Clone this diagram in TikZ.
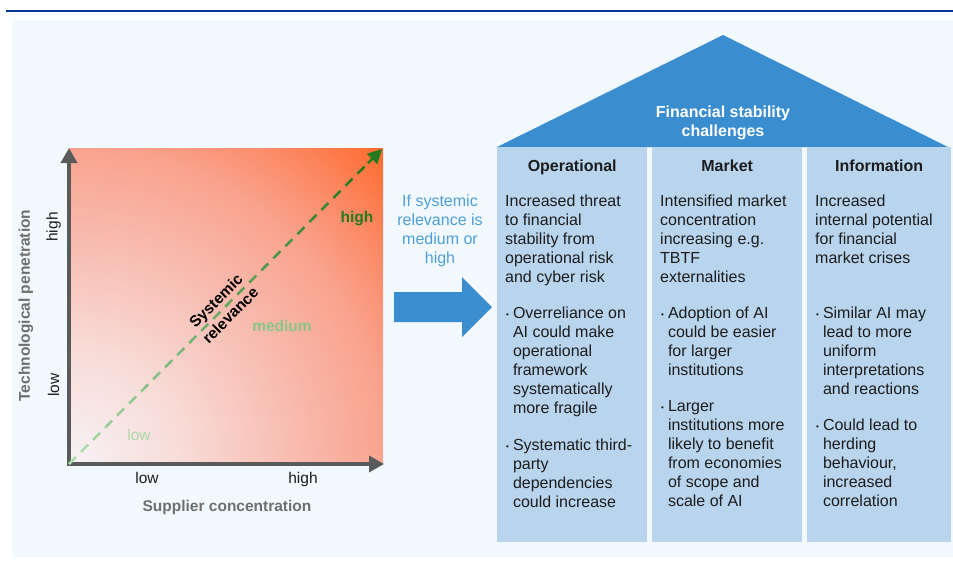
\documentclass[tikz,border=0pt]{standalone}
\usepackage{fontspec}
\setmainfont{Liberation Sans}
\usetikzlibrary{arrows.meta,positioning,calc}
\definecolor{ink}{HTML}{1C1C1C}
\definecolor{rulecol}{HTML}{0A3597}
\definecolor{canvas}{HTML}{F2F9FE}
\definecolor{roofblue}{HTML}{3A8DCF}
\definecolor{pillarfill}{HTML}{B9D5EE}
\definecolor{hintblue}{HTML}{4F9ED8}
\definecolor{axisgray}{HTML}{5A5A5A}
\definecolor{axislabel}{HTML}{6E6E6E}
\definecolor{heat0}{HTML}{F7F2F6}
\definecolor{heat1}{HTML}{F8DCD8}
\definecolor{heat2}{HTML}{F8BCB0}
\definecolor{heat3}{HTML}{F9A38E}
\definecolor{heat4}{HTML}{FB8A66}
\definecolor{heat5}{HTML}{FF6A2C}
\definecolor{relhigh}{HTML}{23791F}
\definecolor{relmid}{HTML}{86C686}
\definecolor{rellow}{HTML}{ABDAAB}
\pgfdeclareradialshading{heatfan}{\pgfpointorigin}{color(0bp)=(heat0); color(6.25bp)=(heat1);
  color(12.5bp)=(heat2); color(17.7bp)=(heat3); color(21bp)=(heat4); color(25bp)=(heat5);
  color(50bp)=(heat5)}
\newcommand{\colfont}{\fontsize{16}{19}\selectfont}
\newcommand{\chartfont}{\fontsize{15.5}{19}\selectfont}
\newcommand{\pipitem}[1]{\begin{tabular}[t]{@{}l@{\hspace{4pt}}l@{}}\raisebox{1.5pt}{\fontsize{8}{8}\selectfont\textbullet}&\begin{tabular}[t]{@{}l@{}}#1\end{tabular}\end{tabular}}

\begin{document}
\begin{tikzpicture}[
  x=1pt, y=-1pt,
  axisline/.style={draw=axisgray, line width=3.5pt,
                   {Triangle[width=16pt,length=15pt]}-{Triangle[width=16pt,length=15pt]}},
  relline/.style={line width=2.5pt, dash pattern=on 10pt off 7pt},
  pillar/.style={fill=pillarfill, inner sep=0pt, minimum width=150pt,
                 minimum height=395pt, anchor=north west},
  colhead/.style={font=\colfont\bfseries, text=ink, anchor=base},
  colbody/.style={font=\colfont, text=ink, align=left, inner sep=0pt, anchor=north west},
  chartlbl/.style={font=\chartfont, inner sep=0pt, anchor=base},
  axistitle/.style={font=\chartfont\bfseries, text=axislabel, inner sep=0pt}
]
\useasboundingbox (0,0) rectangle (953,563);

% page frame
\draw[rulecol, line width=2.5pt] (6,11) -- (953,11);
\fill[canvas] (12,20) rectangle (953,557);

% matrix: supplier concentration vs technological penetration
\coordinate (o) at (69,464);
\coordinate (xtip) at (384,464);
\coordinate (ytip) at (69,148);
\coordinate (rtip) at (382,149);
\begin{scope}
  \clip (o) rectangle (383,148);
  \shade[shading=heatfan] (o) circle (446);
\end{scope}
\draw[axisline] (ytip) -- (o) -- (xtip);

\foreach \i in {0,...,15}{
  \pgfmathsetmacro{\pa}{\i/16*0.955}
  \pgfmathsetmacro{\pb}{(\i+1)/16*0.955}
  \pgfmathsetmacro{\mix}{\i*100/15}
  \pgfmathsetmacro{\ph}{\i*26.42}
  \draw[relline, draw=relhigh!\mix!rellow, dash phase=\ph pt]
    ($(o)!\pa!(rtip)$) -- ($(o)!\pb!(rtip)$);
}
\draw[relhigh, line width=2.5pt, -{Triangle[width=14pt,length=14pt]}]
  ($(o)!0.955!(rtip)$) -- (rtip);

\node[font=\fontsize{15.5}{20.5}\selectfont\bfseries, text=black, align=center,
      rotate=45, inner sep=0pt] (rellbl) at (223,308) {Systemic\\relevance};
\node[chartlbl, font=\chartfont\bfseries, text=relhigh] (relhi) at (357,222.5) {high};
\node[chartlbl, font=\chartfont\bfseries, text=relmid] (relmd) at (282,331.5) {medium};
\node[chartlbl, text=rellow] (rello) at (139,440) {low};

\node[chartlbl, text=ink] (xlow) at (147,483.3) {low};
\node[chartlbl, text=ink] (xhigh) at (303,483.3) {high};
\node[axistitle, anchor=base] (xttl) at (227,511.7) {Supplier concentration};
\node[font=\chartfont, text=ink, inner sep=0pt, rotate=90] (yhigh) at (53.5,227) {high};
\node[font=\chartfont, text=ink, inner sep=0pt, rotate=90] (ylow) at (53.5,385) {low};
\node[axistitle, rotate=90] (yttl) at (26,305.5) {Technological penetration};

% condition and arrow to the house
\node[font=\colfont, text=hintblue, align=center, inner sep=0pt, anchor=north]
  (hint) at (440,193.2) {\strut If systemic\\relevance is\\medium or\\high};
\fill[roofblue] (394,292) -- (462,292) -- (462,277) -- (492,307)
  -- (462,337) -- (462,322) -- (394,322) -- cycle;

% house of challenges
\coordinate (apex) at (723,35);
\fill[roofblue] (497,147) -- (apex) -- (948,147) -- cycle;
\node[font=\colfont\bfseries, text=white, align=center, inner sep=0pt, anchor=north]
  (roofttl) at (723,103.7) {\strut Financial stability\\challenges};

\node[pillar] (opcol) at (497,147) {};
\node[pillar] (mktcol) at (652,147) {};
\node[pillar, minimum width=144pt] (infocol) at (807,147) {};

\node[colhead] (ophead) at ($(opcol.north)+(0,24.5)$) {Operational};
\node[colhead] (mkthead) at ($(mktcol.north)+(0,24.5)$) {Market};
\node[colhead] (infohead) at ($(infocol.north)+(0,24.5)$) {Information};

\node[colbody] (opintro) at ($(opcol.north west)+(8,46.2)$)
  {\strut Increased threat\\to financial\\stability from\\operational risk\\and cyber risk};
\node[colbody] (opa) at ($(opcol.north west)+(9,158.2)$)
  {\pipitem{Overreliance on\\AI could make\\operational\\framework\\systematically\\more fragile}};
\node[colbody] (opb) at ($(opcol.north west)+(9,290.2)$)
  {\pipitem{Systematic third-\\party\\dependencies\\could increase}};

\node[colbody] (mktintro) at ($(mktcol.north west)+(8,46.2)$)
  {\strut Intensified market\\concentration\\increasing e.g.\\TBTF\\externalities};
\node[colbody] (mkta) at ($(mktcol.north west)+(9,158.2)$)
  {\pipitem{Adoption of AI\\could be easier\\for larger\\institutions}};
\node[colbody] (mktb) at ($(mktcol.north west)+(9,251.2)$)
  {\pipitem{Larger\\institutions more\\likely to benefit\\from economies\\of scope and\\scale of AI}};

\node[colbody] (infointro) at ($(infocol.north west)+(8,46.2)$)
  {\strut Increased\\internal potential\\for financial\\market crises};
\node[colbody] (infoa) at ($(infocol.north west)+(9,158.2)$)
  {\pipitem{Similar AI may\\lead to more\\uniform\\interpretations\\and reactions}};
\node[colbody] (infob) at ($(infocol.north west)+(9,270.2)$)
  {\pipitem{Could lead to\\herding\\behaviour,\\increased\\correlation}};

\end{tikzpicture}
\end{document}
